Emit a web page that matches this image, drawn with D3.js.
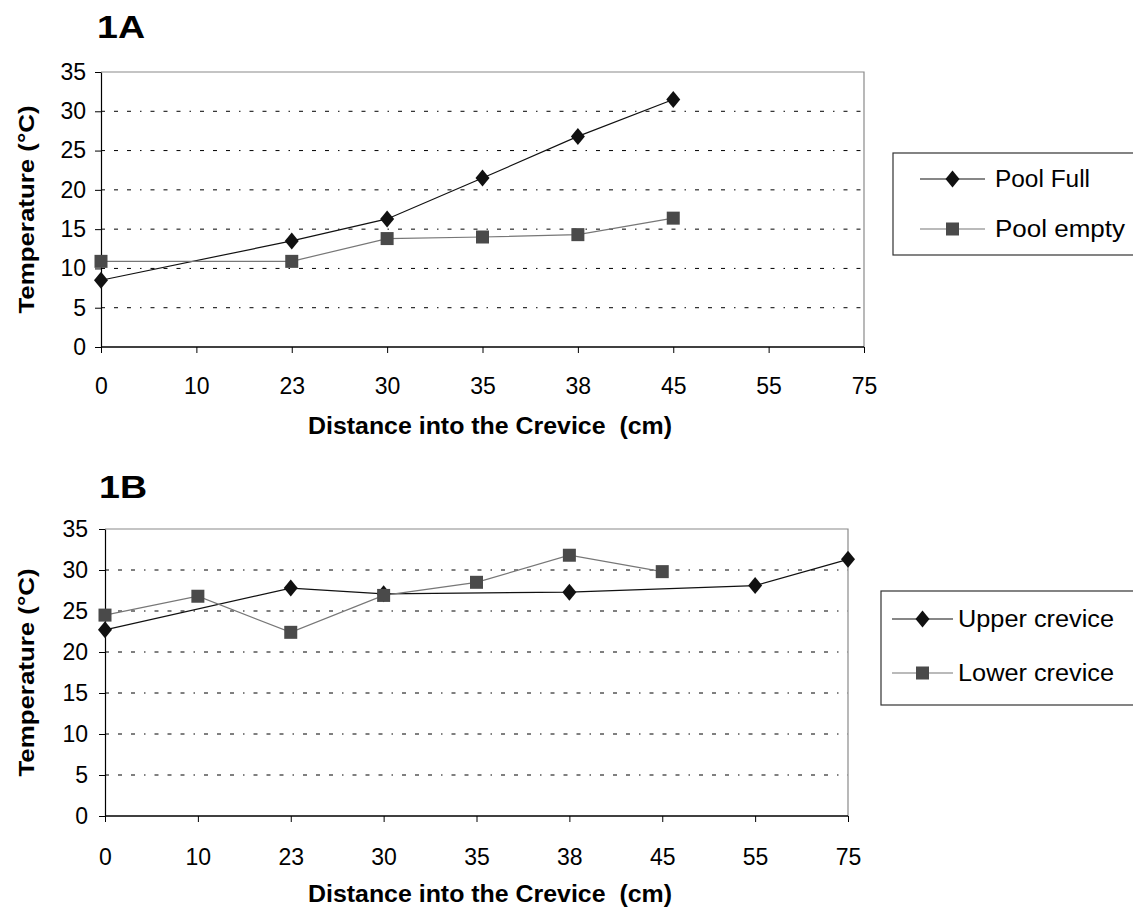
<!DOCTYPE html>
<html>
<head>
<meta charset="utf-8">
<script src="https://cdn.jsdelivr.net/npm/d3@7"></script>
<style>
  html, body { margin: 0; padding: 0; background: #fff; }
  svg { display: block; }
  text { font-family: "Liberation Sans", Arial, sans-serif; fill: #000; white-space: pre; }
</style>
</head>
<body>
<svg id="chart" width="1133" height="910"></svg>
<script>
// ---------- data ----------
const categories = ["0", "10", "23", "30", "35", "38", "45", "55", "75"];
const yTicks = [0, 5, 10, 15, 20, 25, 30, 35];

const poolFull     = [8.5, null, 13.5, 16.3, 21.5, 26.8, 31.5, null, null];
const poolEmpty    = [10.9, null, 10.9, 13.8, 14.0, 14.3, 16.4, null, null];
const upperCrevice = [22.7, null, 27.8, 27.1, null, 27.3, null, 28.1, 31.3];
const lowerCrevice = [24.5, 26.8, 22.4, 26.9, 28.5, 31.8, 29.8, null, null];

const panelTitles = ["1A", "1B"];
const seriesNamesA = ["Pool Full", "Pool empty"];
const seriesNamesB = ["Upper crevice", "Lower crevice"];
const xTitle = "Distance into the Crevice  (cm)";
const yTitle = "Temperature (°C)";

// ---------- drawing ----------
const svg = d3.select("#chart");
const FONT = 23;

function diamond(g, x, y, fill) {
  g.append("path")
    .attr("d", `M${x},${y - 8.5}L${x + 7},${y}L${x},${y + 8.5}L${x - 7},${y}Z`)
    .attr("fill", fill);
}
function square(g, x, y, fill) {
  g.append("rect")
    .attr("x", x - 6.5).attr("y", y - 6.5)
    .attr("width", 13).attr("height", 13)
    .attr("fill", fill);
}

function panel(cfg) {
  const { left, right, top, bottom, title, titleX, titleY, series, legend, xTitleY, xPad, yPad } = cfg;
  const g = svg.append("g");
  const x = d3.scalePoint().domain(categories).range([left, right]);
  const y = d3.scaleLinear().domain([0, 35]).range([bottom, top]);

  // gridlines
  g.append("g").selectAll("line")
    .data(yTicks.filter(v => v > 0 && v < 35))
    .join("line")
    .attr("x1", left).attr("x2", right)
    .attr("y1", d => y(d)).attr("y2", d => y(d))
    .attr("stroke", "#000").attr("stroke-width", 1)
    .attr("stroke-dasharray", "4,9,4,9,4,9,1.5,9");

  // plot area border (top & right, gray)
  g.append("path")
    .attr("d", `M${left},${top}H${right}V${bottom}`)
    .attr("fill", "none").attr("stroke", "#8a8a8a").attr("stroke-width", 1.2);

  // y axis
  const ya = g.append("g").attr("transform", `translate(${left},0)`)
    .call(d3.axisLeft(y).tickValues(yTicks).tickSize(6).tickSizeOuter(0).tickPadding(yPad));
  ya.select(".domain").attr("stroke", "#000").attr("stroke-width", 1.2);
  ya.selectAll(".tick line").attr("stroke", "#000");
  ya.selectAll("text").attr("font-size", FONT).attr("font-family", "Liberation Sans, Arial, sans-serif").attr("fill", "#000");

  // x axis
  const xa = g.append("g").attr("transform", `translate(0,${bottom})`)
    .call(d3.axisBottom(x).tickSize(6).tickSizeOuter(0).tickPadding(xPad));
  xa.select(".domain").attr("stroke", "#000").attr("stroke-width", 1.5)
    .attr("d", `M${left},0H${right}`);
  xa.selectAll(".tick line").attr("stroke", "#000");
  xa.selectAll("text").attr("font-size", FONT).attr("font-family", "Liberation Sans, Arial, sans-serif").attr("fill", "#000");

  // series
  series.forEach(s => {
    const pts = categories.map((c, i) => ({ c, v: s.values[i] })).filter(d => d.v !== null);
    g.append("path")
      .datum(pts)
      .attr("d", d3.line().x(d => x(d.c)).y(d => y(d.v)))
      .attr("fill", "none").attr("stroke", s.line).attr("stroke-width", s.width);
  });
  series.forEach(s => {
    const pts = categories.map((c, i) => ({ c, v: s.values[i] })).filter(d => d.v !== null);
    pts.forEach(d => s.marker(g, x(d.c), y(d.v), s.fill));
  });

  // panel title
  g.append("text").attr("x", titleX).attr("y", titleY)
    .attr("font-size", 32).attr("font-weight", "bold")
    .attr("textLength", 48).attr("lengthAdjust", "spacingAndGlyphs").text(title);

  // axis titles
  g.append("text")
    .attr("transform", `translate(34,${(top + bottom) / 2}) rotate(-90)`)
    .attr("text-anchor", "middle").attr("font-size", 22).attr("font-weight", "bold")
    .attr("textLength", 208).attr("lengthAdjust", "spacingAndGlyphs")
    .text(yTitle);
  g.append("text")
    .attr("x", 490).attr("y", xTitleY)
    .attr("text-anchor", "middle").attr("font-size", 23).attr("font-weight", "bold")
    .attr("textLength", 364).attr("lengthAdjust", "spacingAndGlyphs")
    .text(xTitle);

  // legend
  const L = legend;
  g.append("rect").attr("x", L.x).attr("y", L.y).attr("width", L.w).attr("height", L.h)
    .attr("fill", "#fff").attr("stroke", "#333").attr("stroke-width", 1.2);
  series.forEach((s, i) => {
    const ly = L.rows[i];
    g.append("line").attr("x1", L.lx1).attr("x2", L.lx2).attr("y1", ly).attr("y2", ly)
      .attr("stroke", s.line).attr("stroke-width", s.width);
    s.marker(g, (L.lx1 + L.lx2) / 2, ly, s.fill);
    g.append("text").attr("x", L.tx).attr("y", ly).attr("dy", "0.36em")
      .attr("font-size", FONT)
      .attr("textLength", L.tw[i]).attr("lengthAdjust", "spacingAndGlyphs")
      .text(s.name);
  });
}

panel({
  left: 101, right: 864, top: 72, bottom: 347,
  title: panelTitles[0], titleX: 97, titleY: 38,
  xTitleY: 434, xPad: 25, yPad: 9,
  series: [
    { name: seriesNamesA[0], values: poolFull, line: "#111", width: 1.2, fill: "#111", marker: diamond },
    { name: seriesNamesA[1], values: poolEmpty, line: "#777", width: 1.2, fill: "#4a4a4a", marker: square }
  ],
  legend: { x: 893, y: 153, w: 260, h: 102, rows: [179, 229], lx1: 920, lx2: 985, tx: 995, tw: [95, 130] }
});

panel({
  left: 105, right: 848, top: 529, bottom: 816,
  title: panelTitles[1], titleX: 99, titleY: 498,
  xTitleY: 902, xPad: 27, yPad: 11,
  series: [
    { name: seriesNamesB[0], values: upperCrevice, line: "#111", width: 1.2, fill: "#111", marker: diamond },
    { name: seriesNamesB[1], values: lowerCrevice, line: "#777", width: 1.2, fill: "#4a4a4a", marker: square }
  ],
  legend: { x: 881, y: 591, w: 270, h: 114, rows: [619, 673], lx1: 892, lx2: 953, tx: 958, tw: [156, 156] }
});
</script>
</body>
</html>
